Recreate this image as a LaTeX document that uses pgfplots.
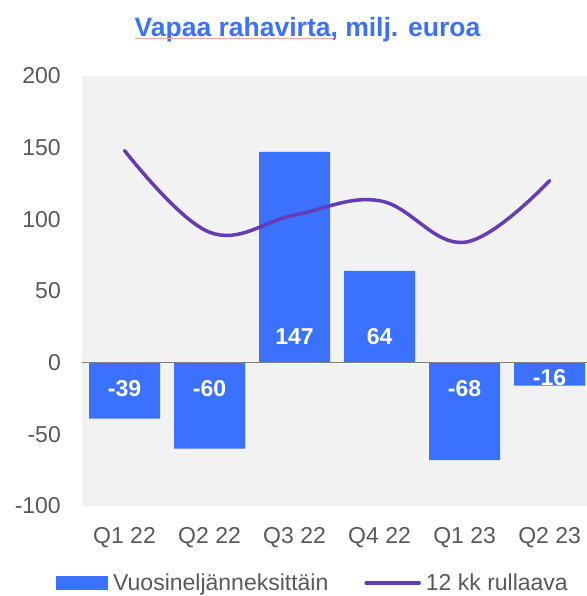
\documentclass[border=0pt]{standalone}
\usepackage{pgfplots}
\pgfplotsset{compat=1.18}
\usepackage{fontspec}
\setmainfont{Liberation Sans}
\definecolor{barblue}{HTML}{3A71FF}
\definecolor{linepurple}{HTML}{673AB7}
\definecolor{bggray}{HTML}{F2F2F2}
\definecolor{ticktext}{HTML}{595959}
\definecolor{zeroline}{HTML}{7F7F7F}
\begin{document}
\begin{tikzpicture}
\begin{axis}[
  scale only axis,
  width=505bp, height=430bp,
  xmin=-0.5, xmax=5.44,
  ymin=-100, ymax=200,
  axis background/.style={fill=bggray},
  axis line style={draw=none},
  major tick length=0pt,
  xtick={0,1,2,3,4,5},
  xticklabels={Q1 22,Q2 22,Q3 22,Q4 22,Q1 23,Q2 23},
  ytick={-100,-50,0,50,100,150,200},
  yticklabels={-100,-50,0,50,100,150,200},
  tick label style={font=\fontsize{23bp}{27bp}\selectfont, text=ticktext, inner sep=0pt},
  xticklabel style={anchor=base, yshift=-37bp},
  yticklabel style={anchor=east, xshift=-21bp},
  clip=false,
  legend columns=2,
  legend style={
    at={(axis description cs:-0.0515,-0.179)}, anchor=west,
    draw=none, fill=none, inner sep=0pt,
    font=\fontsize{23bp}{27bp}\selectfont,
    text=ticktext,
    nodes={inner sep=0pt},
    /tikz/every odd column/.append style={column sep=5bp},
    /tikz/every even column/.append style={column sep=36bp},
  },
  legend cell align=left,
]
\addplot[ybar, bar width=0.835, fill=barblue, draw=none,
  legend image code/.code={\fill[barblue] (0bp,-7bp) rectangle (52bp,7bp);}]
  coordinates {(0,-39) (1,-60) (2,147) (3,64) (4,-68) (5,-16)};
\addlegendentry{Vuosineljänneksittäin}
\draw[zeroline, line width=1.5bp] (axis cs:-0.5,0) -- (axis cs:5.44,0);
\addplot[linepurple, line width=3.5bp, smooth, tension=0.65, line cap=round,
  legend image code/.code={\draw[linepurple, line width=3.5bp, line cap=round] (0bp,0bp) -- (53bp,0bp);}]
  coordinates {(0,148) (1,91) (2,103) (3,113) (4,84) (5,127)};
\addlegendentry{12 kk rullaava}
\addplot[only marks, mark=none, forget plot,
  nodes near coords, point meta=explicit symbolic,
  every node near coord/.append style={anchor=center, yshift=0pt, text=white,
    font=\fontsize{23bp}{27bp}\selectfont\bfseries, inner sep=0pt}]
  coordinates {(0,-18.4) [-39] (1,-18.4) [-60] (2,18) [147] (3,18) [64] (4,-18.4) [-68] (5,-10.6) [-16]};
\end{axis}
\node[anchor=base, text=barblue, font=\fontsize{26.5bp}{30bp}\selectfont\bfseries] at (225.5bp,469.3bp) {Vapaa rahavirta, milj. euroa};
\draw[color={rgb,255:red,244;green,166;blue,166}, line width=1bp] (53bp,467.5bp) -- (251bp,467.5bp);
\pgfresetboundingbox
\path (-82bp,-90bp) rectangle (505bp,506bp);
\end{tikzpicture}
\end{document}
